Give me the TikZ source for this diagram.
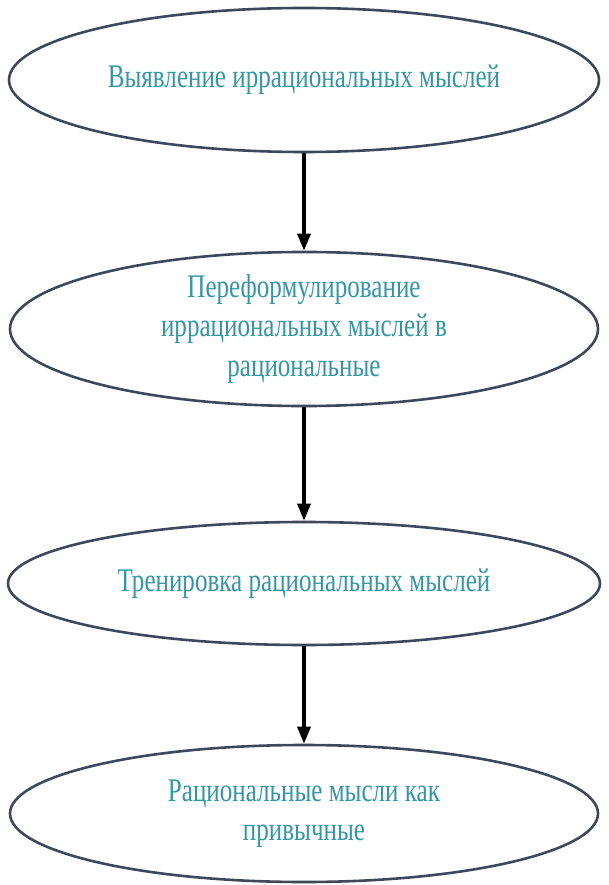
\documentclass[tikz,border=0pt]{standalone}
\usepackage{fontspec}
\setmainfont{Liberation Serif}[FakeStretch=0.76]
\usetikzlibrary{shapes.geometric,arrows.meta}
\definecolor{stepteal}{RGB}{52,150,165}
\definecolor{rimgray}{RGB}{62,72,90}
\begin{document}
\begin{tikzpicture}[x=1pt,y=1pt,
  stage/.style={ellipse, draw=rimgray, line width=2.6pt, inner sep=0pt,
    text=stepteal, align=center, font=\fontsize{33}{39.5}\selectfont},
  flow/.style={draw=black, line width=3.4pt,
    -{Triangle[length=17pt,width=13pt]}}]
  \useasboundingbox (0,0) rectangle (609,-885);
  \fill[white] (0,0) rectangle (609,-885);

  \node[stage, minimum width=590pt, minimum height=144pt] (e1) at (304,-80)
    {Выявление иррациональных мыслей};
  \node[stage, minimum width=588pt, minimum height=142pt] (e2) at (304,-329)
    {Переформулирование\\иррациональных мыслей в\\рациональные};
  \node[stage, minimum width=592pt, minimum height=123pt] (e3) at (304,-583.5)
    {Тренировка рациональных мыслей};
  \node[stage, minimum width=588pt, minimum height=137pt] (e4) at (304,-813.5)
    {Рациональные мысли как\\привычные};

  \draw[flow] (e1.south) -- (e2.north);
  \draw[flow] (e2.south) -- (e3.north);
  \draw[flow] (e3.south) -- (e4.north);
\end{tikzpicture}
\end{document}
